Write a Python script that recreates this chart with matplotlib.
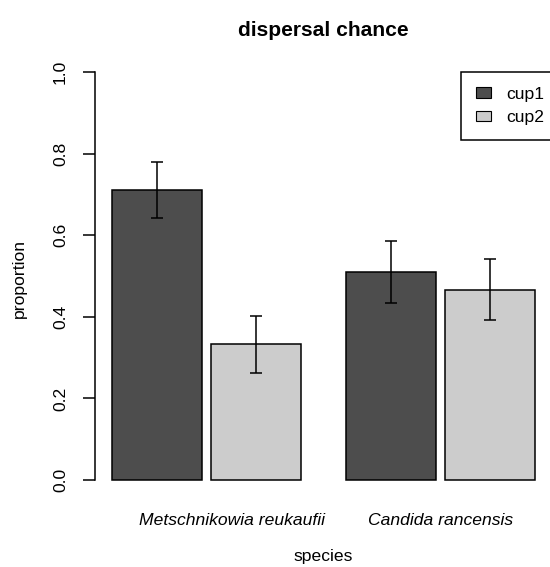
import numpy as np
import matplotlib.pyplot as plt
from matplotlib.patches import Patch

plt.rcParams['font.family'] = ['Liberation Sans', 'DejaVu Sans']

# proporciones de dispersion por especie y tipo de copa
species = ['Metschnikowia reukaufii', 'Candida rancensis']
groups = ['cup1', 'cup2']
cup1 = [0.711, 0.510]
cup2 = [0.333, 0.466]
cup1_se = [0.068, 0.076]
cup2_se = [0.070, 0.075]
yticks = [0.0, 0.2, 0.4, 0.6, 0.8, 1.0]
ytick_labels = ['0.0', '0.2', '0.4', '0.6', '0.8', '1.0']

colors = ['#4d4d4d', '#cccccc']
W, H = 550, 567
fs = 12.6
lw = 1.1

fig = plt.figure(figsize=(W / 100, H / 100), dpi=100)
ax = fig.add_axes([95 / W, 1 - 496.3 / H, (552 - 95) / W, (496.3 - 55.7) / H])

# barras lado a lado: ancho 1, espacio 0.1 dentro del grupo y 0.5 entre grupos
width, gap_in, gap_out = 1.0, 0.1, 0.5
g = np.arange(len(species))
left1 = gap_out + g * (2 * width + gap_in + gap_out)
left2 = left1 + width + gap_in

for left, vals, se, col in [(left1, cup1, cup1_se, colors[0]), (left2, cup2, cup2_se, colors[1])]:
    ax.bar(left, vals, width=width, align='edge', color=col, edgecolor='black', linewidth=lw)
    ax.errorbar(left + width / 2, vals, yerr=se, fmt='none', ecolor='black',
                elinewidth=lw, capsize=4.6, capthick=lw)

ax.set_xlim(0.312, 5.388)
ax.set_ylim(-0.04, 1.04)

# ejes estilo R: solo el eje y, sin caja
for s in ['top', 'right', 'bottom']:
    ax.spines[s].set_visible(False)
ax.spines['left'].set_bounds(0, 1)
ax.spines['left'].set_linewidth(lw)

ax.set_yticks(yticks)
ax.set_yticklabels(ytick_labels, rotation=90, va='center', fontsize=fs)
ax.tick_params(axis='y', length=8.6, width=lw, pad=10.8)

label_x = [left1[0] + 1.33, (left1[1] + left2[1] + width) / 2]
ax.set_xticks(label_x)
ax.set_xticklabels(species, fontstyle='italic', fontsize=fs)
ax.tick_params(axis='x', length=0, pad=12)

fig.text(323 / W, 1 - 30 / H, 'dispersal chance', ha='center', va='center',
         fontsize=fs * 1.2, fontweight='bold')
fig.text(323 / W, 1 - 557 / H, 'species', ha='center', va='center', fontsize=fs)
fig.text(19 / W, 1 - 278 / H, 'proportion', ha='center', va='center',
         rotation=90, fontsize=fs)

handles = [Patch(facecolor=c, edgecolor='black', linewidth=0.8) for c in colors]
leg = ax.legend(handles, groups, loc='upper right', bbox_to_anchor=(559 / W, 1 - 72 / H),
                bbox_transform=fig.transFigure, fontsize=fs, fancybox=False,
                edgecolor='black', framealpha=1, borderaxespad=0, borderpad=0.85,
                handlelength=0.86, handleheight=0.57, handletextpad=0.86,
                labelspacing=0.47)
leg.get_frame().set_linewidth(lw)

fig.savefig('out.png', dpi=100)
